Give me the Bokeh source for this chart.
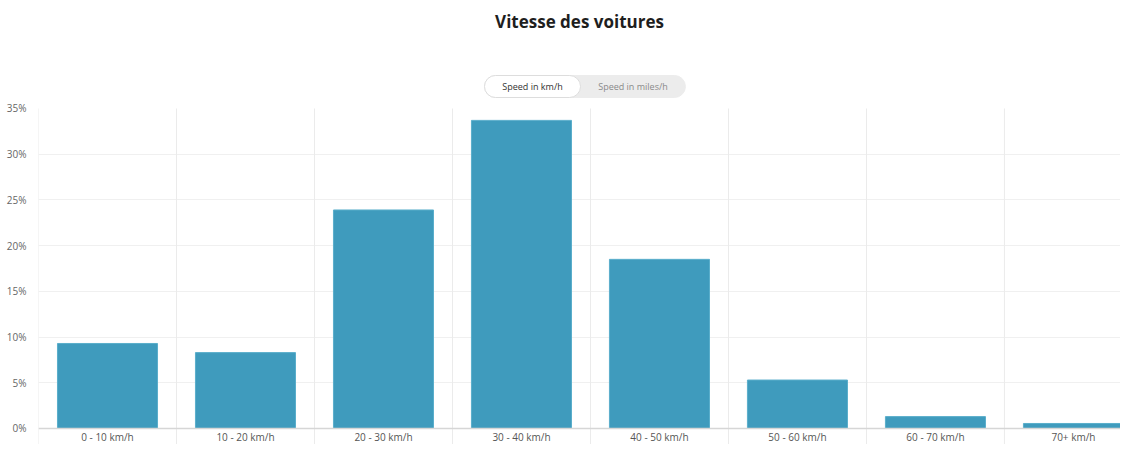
from bokeh.plotting import figure
from bokeh.models import Range1d, FixedTicker, PrintfTickFormatter, ColumnDataSource, Span
from bokeh.core.properties import value
from bokeh.embed import file_html
from bokeh.resources import INLINE

categories = ["0 - 10 km/h", "10 - 20 km/h", "20 - 30 km/h", "30 - 40 km/h",
              "40 - 50 km/h", "50 - 60 km/h", "60 - 70 km/h", "70+ km/h"]
values = [9.3, 8.3, 23.9, 33.7, 18.5, 5.3, 1.3, 0.55]
y_ticks = [0, 5, 10, 15, 20, 25, 30, 35]
toggle_labels = ["Speed in km/h", "Speed in miles/h"]

xs = list(range(len(categories)))
bounds = [i - 0.5 for i in range(len(categories) + 1)]

Y_MIN, Y_MAX, Y_TOP = -1.75, 35, 43.312

src = ColumnDataSource(dict(x=xs, top=values, cat=categories))

p = figure(width=1120, height=444, output_backend="svg", toolbar_location=None,
           x_range=Range1d(-0.5, 7.341), y_range=Range1d(Y_MIN, Y_TOP),
           min_border_left=38, min_border_right=0, min_border_bottom=0, min_border_top=32)

p.title.text = "Vitesse des voitures"
p.title.align = "center"
p.title.standoff = 0
p.title.text_font = "Open Sans"
p.title.text_font_size = "17px"
p.title.text_font_style = "bold"
p.title.text_color = "#1e1e1e"

p.outline_line_color = None
p.background_fill_color = "white"
p.border_fill_color = "white"

# vertical separators (grid between categories, extending below the baseline)
p.segment(x0=bounds, y0=Y_MIN, x1=bounds, y1=Y_MAX, line_color="#ebebeb", line_width=1)

# bars
p.vbar(x="x", top="top", width=0.725, bottom=0, source=src,
       fill_color="#3f9bbd", line_color="#5aaecb", line_width=1)

# baseline
p.add_layout(Span(location=0, dimension="width", line_color="#d6d6d6", line_width=1.5))

# category labels
p.text(x="x", y=-0.93, text="cat", source=src, text_align="center", text_baseline="middle",
       text_font=value("Open Sans"), text_font_size="10px", text_color="#555555")

p.xaxis.visible = False
p.xgrid.visible = False

# y axis
ya = p.yaxis[0]
ya.ticker = FixedTicker(ticks=y_ticks)
ya.formatter = PrintfTickFormatter(format="%d%%")
ya.axis_line_color = None
ya.major_tick_line_color = None
ya.minor_tick_line_color = None
ya.major_label_standoff = 6
ya.major_label_text_font = "Open Sans"
ya.major_label_text_font_size = "10px"
ya.major_label_text_color = "#666666"

p.ygrid.ticker = FixedTicker(ticks=y_ticks[1:-1])
p.ygrid.grid_line_color = "#f0f0f0"

# toggle pill
pill_y = 37.406
pill_h = 2.406
p.rect(x=[(2.732 + 4.188) / 2], y=[pill_y], width=[4.188 - 2.732], height=[pill_h],
       fill_color="#ececec", line_color="#ececec", border_radius=11)
p.rect(x=[(2.732 + 3.428) / 2], y=[pill_y], width=[3.428 - 2.732], height=[pill_h],
       fill_color="white", line_color="#dddddd", border_radius=11)
p.text(x=[(2.732 + 3.428) / 2, (3.428 + 4.188) / 2], y=[pill_y, pill_y], text=toggle_labels,
       text_align="center", text_baseline="middle", text_font=value("Open Sans"),
       text_font_size="9px", text_color=["#333333", "#8a8a8a"])

open("out.html", "w").write(file_html(p, INLINE))
